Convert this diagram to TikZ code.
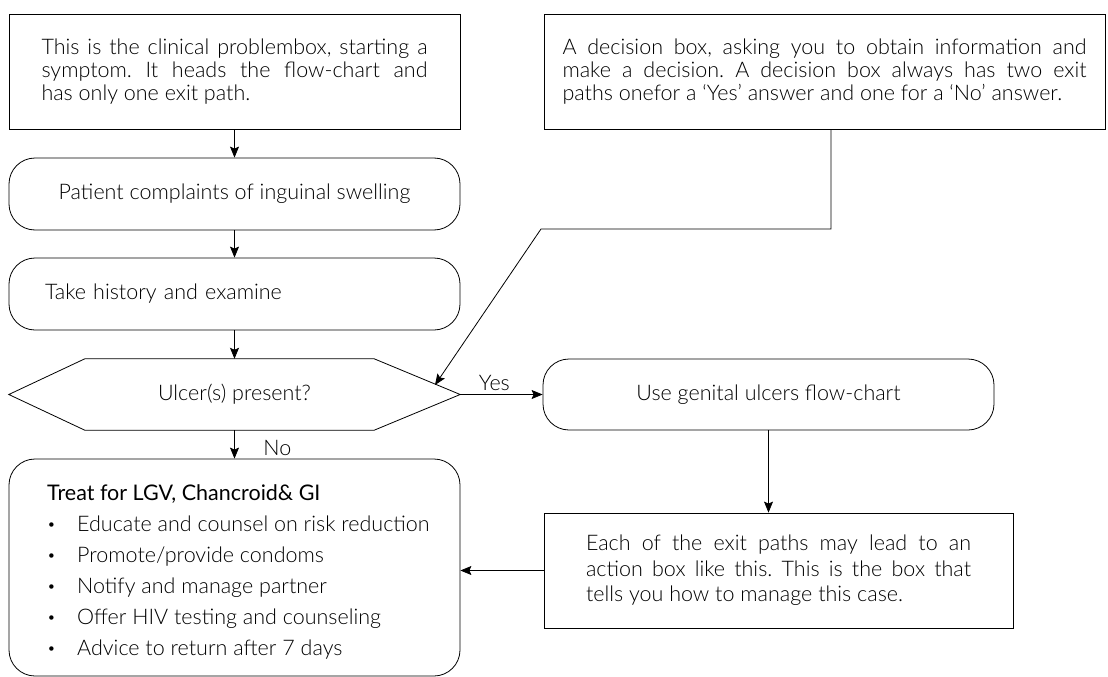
\documentclass[tikz,border=0pt]{standalone}
\usepackage{fontspec}
\setmainfont{Lato Light}
\newfontfamily\titlefont{Lato}
\usetikzlibrary{arrows.meta}
\frenchspacing
\newcommand{\itemdot}{\makebox[30pt][l]{\raisebox{0.15ex}{\scalebox{0.7}{\textbullet}}}}
\begin{document}
\begin{tikzpicture}[x=1pt,y=-1pt,
  every node/.style={font=\fontsize{21.5}{23}\selectfont, inner sep=0pt},
  box/.style={draw, line width=0.8pt},
  roundbox/.style={draw, line width=0.8pt, rounded corners=26pt},
  conn/.style={line width=0.8pt, -{Stealth[length=11pt,width=9pt,inset=2pt]}},
  lbl/.style={font=\fontsize{21.5}{22}\selectfont}]
\useasboundingbox (0,0) rectangle (1108,677);

% explanatory boxes
\node[box, minimum width=451pt, minimum height=115pt, text width=386pt, align=justify] (prob) at (234.5,71.5)
  {This is the clinical problembox, starting a\linebreak symptom. It heads the flow-chart and\linebreak has only one exit path.};
\node[box, minimum width=561pt, minimum height=115pt, text width=524pt, align=justify] (note) at (824.5,71.5)
  {A decision box, asking you to obtain information and\linebreak make a decision. A decision box always has two exit\linebreak paths onefor a ‘Yes’ answer and one for a ‘No’ answer.};

% main flow
\node[roundbox, minimum width=451pt, minimum height=72pt] (compl) at (234.5,194) {Patient complaints of inguinal swelling};
\node[roundbox, minimum width=451pt, minimum height=72pt, inner xsep=36pt, text width=379pt, align=left] (hist) at (234.5,294) {Take history and examine};
\node[minimum width=451pt, minimum height=71pt] (dec) at (234.5,394.5) {Ulcer(s) present?};
\draw[line width=0.8pt] (dec.west) -- ([xshift=76pt]dec.north west) -- ([xshift=-86pt]dec.north east)
  -- (dec.east) -- ([xshift=-86pt]dec.south east) -- ([xshift=76pt]dec.south west) -- cycle;
\node[roundbox, minimum width=451pt, minimum height=71pt] (geni) at (768.5,394.5) {Use genital ulcers flow-chart};
\node[box, minimum width=469pt, minimum height=115pt, text width=385pt, align=justify, font=\fontsize{21.5}{25.5}\selectfont] (act) at (778.5,570.5)
  {Each of the exit paths may lead to an\linebreak action box like this. This is the box that\linebreak tells you how to manage this case.};
\node[roundbox, minimum width=451pt, minimum height=217pt] (treat) at (234.5,567.5) {};
\node[anchor=north west, align=left, font=\fontsize{21.5}{31}\selectfont] (treattxt) at (47,484)
  {{\titlefont Treat for LGV, Chancroid\& GI}\\
   \itemdot Educate and counsel on risk reduction\\
   \itemdot Promote/provide condoms\\
   \itemdot Notify and manage partner\\
   \itemdot Offer HIV testing and counseling\\
   \itemdot Advice to return after 7 days};

% connectors
\draw[conn] (prob) -- (compl);
\draw[conn] (compl) -- (hist);
\draw[conn] (hist) -- (dec.north);
\draw[conn] (dec.south) -- node[lbl, anchor=west, xshift=28.5pt, yshift=-3.5pt] (nolbl) {No} (treat.north);
\draw[conn] (dec.east) -- node[lbl, anchor=south, xshift=-7pt, yshift=3pt] (yeslbl) {Yes} (geni.west);
\draw[conn] (geni.south) -- (geni.south |- act.north);
\draw[conn] (act.west) -- (act.west -| treat.east);

% pointer from the decision note to the decision shape
\coordinate (n1) at (831,229);
\coordinate (n2) at (541,229);
\coordinate (tip) at (435,385);
\draw[conn] (note.south -| n1) -- (n1) -- (n2) -- (tip);
\end{tikzpicture}
\end{document}
